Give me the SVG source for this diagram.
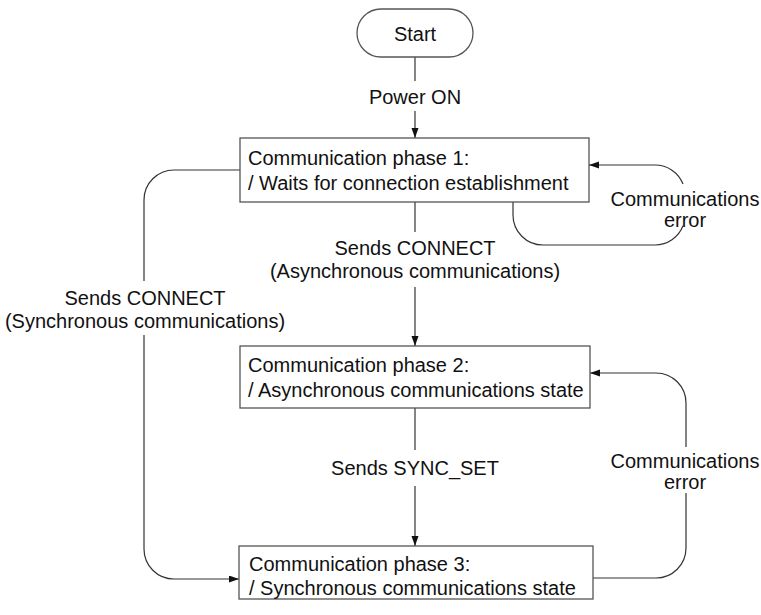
<svg xmlns="http://www.w3.org/2000/svg" width="761" height="615" viewBox="0 0 761 615">
  <style>
    .node { fill: #ffffff; stroke: #555555; stroke-width: 1.3; }
    .edge { fill: none; stroke: #333333; stroke-width: 1.2; }
    .txt { font-family: "Liberation Sans", Arial, sans-serif; font-size: 20px; fill: #111111; }
    .mid { text-anchor: middle; }
  </style>
  <defs>
    <marker id="arrow" markerUnits="userSpaceOnUse" markerWidth="11" markerHeight="8" refX="10" refY="3.5" orient="auto">
      <path d="M0,0 L10,3.5 L0,7 z" fill="#111111"/>
    </marker>
  </defs>

  <rect width="761" height="615" fill="#ffffff"/>

  <!-- connectors -->
  <g id="connectors">
    <!-- Start to phase 1 -->
    <path class="edge" d="M415 57 V81"/>
    <path class="edge" d="M415 111 V138" marker-end="url(#arrow)"/>
    <!-- phase 1 to phase 2 -->
    <path class="edge" d="M415 202 V232"/>
    <path class="edge" d="M415 287 V346" marker-end="url(#arrow)"/>
    <!-- phase 2 to phase 3 -->
    <path class="edge" d="M415 408 V450"/>
    <path class="edge" d="M415 486 V546" marker-end="url(#arrow)"/>
    <!-- phase 1 to phase 3 (left) -->
    <path class="edge" d="M240 170 H174 A30 30 0 0 0 144 200 V281"/>
    <path class="edge" d="M144 335 V549 A30 30 0 0 0 174 579 H239" marker-end="url(#arrow)"/>
    <!-- phase 1 error loop -->
    <path class="edge" d="M683 225.8 A30 30 0 0 1 655 245 H543 A30 30 0 0 1 513 215 V202"/>
    <path class="edge" d="M683 184 A30 30 0 0 0 655 165 H589" marker-end="url(#arrow)"/>
    <!-- phase 3 error loop back to phase 2 -->
    <path class="edge" d="M593 578 H656 A30 30 0 0 0 686 548 V493"/>
    <path class="edge" d="M686 447 V403 A30 30 0 0 0 656 373 H590" marker-end="url(#arrow)"/>
  </g>

  <!-- connector labels -->
  <g id="labels">
    <text class="txt mid" x="415" y="104">Power ON</text>
    <text class="txt mid" x="415" y="255">Sends CONNECT</text>
    <text class="txt mid" x="415" y="278">(Asynchronous communications)</text>
    <text class="txt mid" x="145" y="305">Sends CONNECT</text>
    <text class="txt mid" x="145" y="328">(Synchronous communications)</text>
    <text class="txt mid" x="685" y="206">Communications</text>
    <text class="txt mid" x="685" y="227">error</text>
    <text class="txt mid" x="685" y="468">Communications</text>
    <text class="txt mid" x="685" y="489">error</text>
    <text class="txt mid" x="415" y="475">Sends SYNC_SET</text>
  </g>

  <g id="start">
    <rect class="node" x="357" y="9" width="116" height="48" rx="24" ry="24"/>
    <text class="txt mid" x="415" y="41">Start</text>
  </g>

  <g id="phase1">
    <rect class="node" x="240" y="138" width="349" height="64"/>
    <text class="txt" x="248" y="165">Communication phase 1:</text>
    <text class="txt" x="248" y="190">/ Waits for connection establishment</text>
  </g>

  <g id="phase2">
    <rect class="node" x="240" y="346" width="350" height="62"/>
    <text class="txt" x="248" y="372">Communication phase 2:</text>
    <text class="txt" x="248" y="397">/ Asynchronous communications state</text>
  </g>

  <g id="phase3">
    <rect class="node" x="239" y="546" width="354" height="53"/>
    <text class="txt" x="249" y="571">Communication phase 3:</text>
    <text class="txt" x="249" y="595">/ Synchronous communications state</text>
  </g>
</svg>
